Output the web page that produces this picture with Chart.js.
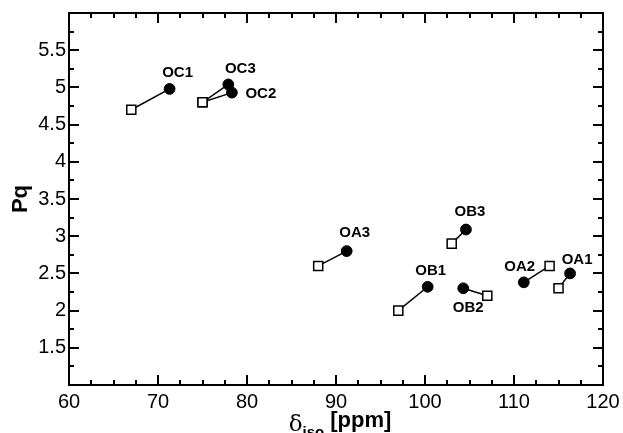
<!DOCTYPE html>
<html>
<head>
<meta charset="utf-8">
<script src="https://cdn.jsdelivr.net/npm/chart.js@4/dist/chart.umd.min.js"></script>
<style>
html,body{margin:0;padding:0;background:#fff;}
#wrap{width:623px;height:433px;position:relative;}
</style>
</head>
<body>
<div id="wrap"><canvas id="c" width="623" height="433"></canvas></div>
<script>
const siteLabels = ['OC1','OC2','OC3','OA1','OA2','OA3','OB1','OB2','OB3'];
const squareX = [67, 75, 75, 115, 114, 88, 97, 107, 103];
const squareY = [4.7, 4.8, 4.8, 2.3, 2.6, 2.6, 2.0, 2.2, 2.9];
const circleX = [71.3, 78.3, 77.9, 116.3, 111.1, 91.2, 100.3, 104.3, 104.6];
const circleY = [4.98, 4.93, 5.04, 2.5, 2.38, 2.8, 2.32, 2.3, 3.09];
const xTicksMajor = [60, 70, 80, 90, 100, 110, 120];
const yTicksMajor = [1.5, 2, 2.5, 3, 3.5, 4, 4.5, 5, 5.5];
// label pixel offsets from the filled circle
const labelDX = [8, 29, 12, 7, -4, 8, 3, 5, 4];
const labelDY = [-16, 1, -16, -14, -15, -18, -16, 20, -18];

const FONT = '"Liberation Sans", Arial, sans-serif';

const datasets = siteLabels.map((lab, i) => ({
  label: lab,
  data: [{x: squareX[i], y: squareY[i]}, {x: circleX[i], y: circleY[i]}],
  showLine: true,
  borderColor: '#000',
  borderWidth: 1.5,
  pointStyle: ['rect', 'circle'],
  pointRadius: [6.4, 5.4],
  pointBackgroundColor: ['#fff', '#000'],
  pointBorderColor: '#000',
  pointBorderWidth: [1.5, 1],
  pointHoverRadius: [6.4, 5.4]
}));

const framePlugin = {
  id: 'frame',
  afterDraw(chart) {
    const ctx = chart.ctx;
    const a = chart.chartArea;
    const xs = chart.scales.x, ys = chart.scales.y;
    ctx.save();
    ctx.strokeStyle = '#000';
    ctx.lineWidth = 2;
    ctx.strokeRect(a.left, a.top, a.right - a.left, a.bottom - a.top);
    ctx.beginPath();
    for (let v = 60; v <= 120.001; v += 2.5) {
      const major = Math.abs(v / 10 - Math.round(v / 10)) < 1e-6;
      const len = major ? 10 : 5;
      const px = Math.round(xs.getPixelForValue(v));
      ctx.moveTo(px, a.bottom); ctx.lineTo(px, a.bottom - len);
      ctx.moveTo(px, a.top); ctx.lineTo(px, a.top + len);
    }
    for (let v = 1; v <= 6.001; v += 0.25) {
      const major = Math.abs(v / 0.5 - Math.round(v / 0.5)) < 1e-6;
      const len = major ? 10 : 5;
      const py = Math.round(ys.getPixelForValue(v));
      ctx.moveTo(a.left, py); ctx.lineTo(a.left + len, py);
      ctx.moveTo(a.right, py); ctx.lineTo(a.right - len, py);
    }
    ctx.stroke();

    // point labels
    ctx.fillStyle = '#000';
    ctx.font = 'bold 15px ' + FONT;
    ctx.textAlign = 'center';
    ctx.textBaseline = 'middle';
    siteLabels.forEach((lab, i) => {
      const px = xs.getPixelForValue(circleX[i]);
      const py = ys.getPixelForValue(circleY[i]);
      ctx.fillText(lab, px + labelDX[i], py + labelDY[i]);
    });

    // y title
    ctx.save();
    ctx.translate(21, (a.top + a.bottom) / 2);
    ctx.rotate(-Math.PI / 2);
    ctx.font = 'bold 22px ' + FONT;
    ctx.textAlign = 'center';
    ctx.textBaseline = 'middle';
    ctx.fillText('Pq', 0, 0);
    ctx.restore();

    // x title: δiso [ppm]
    const f1 = '23px "DejaVu Serif", serif';
    const f2 = 'bold 15px ' + FONT;
    const f3 = 'bold 22px ' + FONT;
    ctx.textAlign = 'left';
    ctx.textBaseline = 'alphabetic';
    ctx.font = f1; const w1 = ctx.measureText('δ').width;
    ctx.font = f2; const w2 = ctx.measureText('iso').width;
    ctx.font = f3; const w3 = ctx.measureText(' [ppm]').width;
    const total = w1 + w2 + w3;
    let x0 = (a.left + a.right) / 2 - total / 2 + 4;
    const base = 431;
    ctx.font = f1; ctx.fillText('δ', x0, base); x0 += w1;
    ctx.font = f2; ctx.fillText('iso', x0, base + 6); x0 += w2;
    ctx.font = f3; ctx.fillText(' [ppm]', x0, base - 4);
    ctx.restore();
  }
};

new Chart(document.getElementById('c'), {
  type: 'scatter',
  data: { datasets },
  options: {
    responsive: false,
    animation: false,
    devicePixelRatio: 1,
    layout: { padding: { top: 13, right: 20, left: 0, bottom: 0 } },
    plugins: { legend: { display: false }, tooltip: { enabled: false } },
    scales: {
      x: {
        type: 'linear', min: 60, max: 120,
        afterBuildTicks: (s) => { s.ticks = xTicksMajor.map(v => ({value: v})); },
        afterFit: (s) => { s.height = 48; s.paddingLeft = 0; s.paddingRight = 0; },
        grid: { display: false, drawTicks: false },
        border: { display: false },
        ticks: { color: '#000', padding: 5, font: { size: 20, family: FONT },
                 callback: (v) => String(v) }
      },
      y: {
        type: 'linear', min: 1, max: 6,
        afterBuildTicks: (s) => { s.ticks = yTicksMajor.map(v => ({value: v})); },
        afterFit: (s) => { s.width = 69; s.paddingTop = 0; s.paddingBottom = 0; },
        grid: { display: false, drawTicks: false },
        border: { display: false },
        ticks: { color: '#000', padding: 3, font: { size: 20, family: FONT },
                 callback: (v) => String(v) }
      }
    }
  },
  plugins: [framePlugin]
});
</script>
</body>
</html>
